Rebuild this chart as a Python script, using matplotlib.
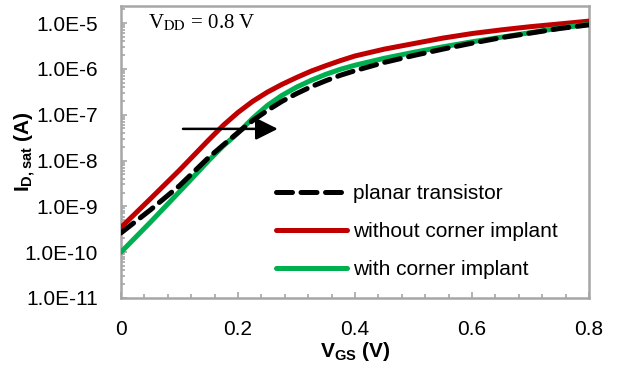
import numpy as np
import matplotlib
matplotlib.use("Agg")
import matplotlib.pyplot as plt
from matplotlib.ticker import MultipleLocator, FixedLocator, LogLocator, NullFormatter, FixedFormatter

plt.rcParams['font.family'] = ['Liberation Sans', 'DejaVu Sans']
plt.rcParams['mathtext.fontset'] = 'custom'
plt.rcParams['mathtext.rm'] = 'Liberation Sans'
plt.rcParams['mathtext.bf'] = 'Liberation Sans:bold'
plt.rcParams['mathtext.it'] = 'Liberation Sans:italic'

# ---- data ----
vgs = [0.0, 0.05, 0.10, 0.15, 0.175, 0.20, 0.225, 0.25, 0.275, 0.30, 0.325,
       0.35, 0.375, 0.40, 0.45, 0.50, 0.55, 0.60, 0.65, 0.70, 0.75, 0.80]
planar = [2.63e-10, 8.32e-10, 2.82e-9, 1.17e-8, 2.19e-8, 4.07e-8, 7.41e-8,
          1.23e-7, 1.95e-7, 2.88e-7, 4.07e-7, 5.50e-7, 7.24e-7, 9.12e-7,
          1.38e-6, 1.95e-6, 2.69e-6, 3.63e-6, 4.79e-6, 6.03e-6, 7.59e-6,
          9.12e-6]
without_corner = [3.47e-10, 1.45e-9, 6.17e-9, 2.82e-8, 5.89e-8, 1.12e-7,
                  1.95e-7, 3.09e-7, 4.57e-7, 6.46e-7, 8.91e-7, 1.17e-6,
                  1.51e-6, 1.91e-6, 2.69e-6, 3.55e-6, 4.68e-6, 5.89e-6,
                  7.08e-6, 8.32e-6, 9.55e-6, 1.10e-5]
with_corner = [1.00e-10, 4.47e-10, 2.09e-9, 1.00e-8, 2.09e-8, 3.98e-8,
               8.32e-8, 1.58e-7, 2.63e-7, 3.98e-7, 5.62e-7, 7.59e-7,
               9.77e-7, 1.20e-6, 1.70e-6, 2.29e-6, 3.02e-6, 3.89e-6,
               4.90e-6, 6.17e-6, 7.76e-6, 9.33e-6]
series_labels = ['planar transistor', 'without corner implant', 'with corner implant']

y_ticks = [1e-11, 1e-10, 1e-9, 1e-8, 1e-7, 1e-6, 1e-5]
y_ticklabels = ['1.0E-11', '1.0E-10', '1.0E-9', '1.0E-8', '1.0E-7', '1.0E-6', '1.0E-5']
x_ticks = [0, 0.2, 0.4, 0.6, 0.8]
x_ticklabels = ['0', '0.2', '0.4', '0.6', '0.8']

arrow_start = (0.106, 4.9e-8)
arrow_end = (0.268, 4.9e-8)

# ---- figure ----
fig = plt.figure(figsize=(6.24, 3.69), dpi=100)
ax = fig.add_axes([121/624, 1-298/369, (589-121)/624, (298-6)/369])

red = '#C00000'
green = '#00B050'
lw = 3.6
ax.plot(vgs, planar, color='black', lw=lw, dashes=(3.2, 1.7), dash_capstyle='round',
        label=series_labels[0], zorder=4)
ax.plot(vgs, without_corner, color=red, lw=lw, solid_capstyle='round', solid_joinstyle='round',
        label=series_labels[1], zorder=3)
ax.plot(vgs, with_corner, color=green, lw=lw, solid_capstyle='round', solid_joinstyle='round',
        label=series_labels[2], zorder=3)

ax.set_yscale('log')
ax.set_xlim(0, 0.8)
ax.set_ylim(1e-11, 10**(-5 + 17/45.8))

ax.yaxis.set_major_locator(FixedLocator(y_ticks))
ax.yaxis.set_major_formatter(FixedFormatter(y_ticklabels))
ax.yaxis.set_minor_locator(LogLocator(base=10, subs=np.arange(2, 10), numticks=20))
ax.yaxis.set_minor_formatter(NullFormatter())
ax.set_xticks(x_ticks)
ax.set_xticklabels(x_ticklabels)
ax.xaxis.set_minor_locator(MultipleLocator(0.04))

spine_c = '#A6A6A6'
for s in ['left', 'right', 'top', 'bottom']:
    ax.spines[s].set_color(spine_c)
    ax.spines[s].set_linewidth(1.8)

ax.tick_params(axis='both', which='both', direction='in', color=spine_c, width=1.2,
               labelsize=15, labelcolor='black')
ax.tick_params(axis='both', which='major', length=4.5)
ax.tick_params(axis='both', which='minor', length=3)
ax.tick_params(axis='y', which='both', pad=16.5)
ax.tick_params(axis='x', which='both', pad=16)
ax.tick_params(top=False, right=False, which='both')

ax.set_xlabel(r'V$_{\mathbf{GS}}$ (V)', fontsize=15, fontweight='bold', labelpad=0.5)
ax.set_ylabel(r'I$_{\mathbf{D,sat}}$ (A)', fontsize=15, fontweight='bold')
ax.yaxis.set_label_coords(-0.178, 0.5)

ax.text(148/624, 1-23/369, r'V$_{\rm DD}$ = 0.8 V', transform=fig.transFigure,
        fontsize=15, family='Liberation Serif', math_fontfamily='stix', va='center', ha='left')

ax.annotate('', xy=arrow_end, xytext=arrow_start,
            arrowprops=dict(arrowstyle='-|>,head_length=0.9,head_width=0.45', color='black',
                            lw=1.8, shrinkA=0, shrinkB=0, mutation_scale=15), zorder=5)

leg = ax.legend(loc='upper left', bbox_to_anchor=(276/624, 1-184/369),
                bbox_transform=fig.transFigure, frameon=False, fontsize=15,
                handlelength=3.4, handletextpad=0.3, labelspacing=0.92,
                borderpad=0, borderaxespad=0)

fig.savefig('out.png', dpi=100)
